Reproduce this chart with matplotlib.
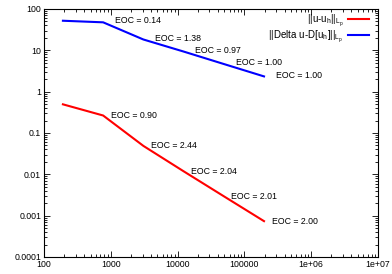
import matplotlib
matplotlib.use('Agg')
import matplotlib.pyplot as plt
from matplotlib.ticker import LogLocator, NullFormatter

plt.rcParams['font.family'] = ['Liberation Sans', 'DejaVu Sans']
plt.rcParams['mathtext.fontset'] = 'custom'
plt.rcParams['mathtext.rm'] = 'Liberation Sans'

# degrees of freedom
ndof = [192, 768, 3072, 12288, 49152, 196608]
# errors
err_u = [0.494, 0.265, 0.0488, 0.01187, 0.00295, 0.000737]
err_du = [52.0, 47.6, 18.3, 9.35, 4.67, 2.34]
eoc_u = ['0.90', '2.44', '2.04', '2.01', '2.00']
eoc_du = ['0.14', '1.38', '0.97', '1.00', '1.00']

xticks = [1e2, 1e3, 1e4, 1e5, 1e6, 1e7]
xlabels = ['100', '1000', '10000', '100000', '1e+06', '1e+07']
yticks = [1e-4, 1e-3, 1e-2, 1e-1, 1, 10, 100]
ylabels = ['0.0001', '0.001', '0.01', '0.1', '1', '10', '100']

fig = plt.figure(figsize=(3.92, 2.74), dpi=100)
ax = fig.add_axes([44/392, 17/274, 334/392, 248/274])

ax.plot(ndof, err_u, color='#ff0000', lw=1.5,
        label=r'$\mathregular{||u\text{-}u_h||_{L_p}}$')
ax.plot(ndof, err_du, color='#0000ff', lw=1.5,
        label=r'$\mathregular{||Delta\ u\text{-}D[u_h]||_{L_p}}$')

for i, e in enumerate(eoc_du):
    ax.annotate('EOC = ' + e, (ndof[i+1], err_du[i+1]), xytext=(8.5, 1),
                textcoords='offset points', fontsize=6.3, va='center')
for i, e in enumerate(eoc_u):
    ax.annotate('EOC = ' + e, (ndof[i+1], err_u[i+1]), xytext=(5.5, 0),
                textcoords='offset points', fontsize=6.3, va='center')

ax.set_xscale('log')
ax.set_yscale('log')
ax.set_xlim(1e2, 1e7)
ax.set_ylim(1e-4, 1e2)
ax.set_xticks(xticks, xlabels)
ax.set_yticks(yticks, ylabels)
ax.xaxis.set_minor_locator(LogLocator(base=10, subs=range(2, 10), numticks=20))
ax.yaxis.set_minor_locator(LogLocator(base=10, subs=range(2, 10), numticks=20))
ax.xaxis.set_minor_formatter(NullFormatter())
ax.yaxis.set_minor_formatter(NullFormatter())
ax.tick_params(which='both', direction='in', top=True, right=True,
               labelsize=6.3, width=0.6, pad=2)
ax.tick_params(which='major', length=4)
ax.tick_params(which='minor', length=2)
for s in ax.spines.values():
    s.set_linewidth(0.8)

ax.legend(loc='upper right', frameon=False, markerfirst=False, fontsize=7,
          handlelength=2.2, handletextpad=0.4, borderaxespad=0, borderpad=0,
          labelspacing=0.0, bbox_to_anchor=(0.973, 0.985))

fig.savefig('out.png', dpi=100)
